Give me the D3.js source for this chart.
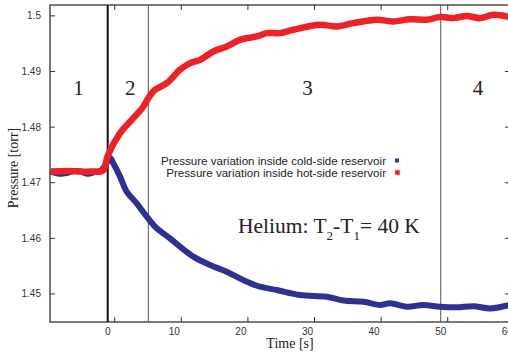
<!DOCTYPE html>
<html>
<head>
<meta charset="utf-8">
<script src="https://cdn.jsdelivr.net/npm/d3@7"></script>
<style>
  html, body { margin: 0; padding: 0; background: #fff; }
  svg { display: block; }
  .tick-label { font-family: "Liberation Sans", Arial, sans-serif; font-size: 10px; fill: #333; }
  .serif { font-family: "Liberation Serif", "Times New Roman", serif; fill: #222; }
  .legend { font-family: "Liberation Sans", Arial, sans-serif; font-size: 11.6px; fill: #222; }
</style>
</head>
<body>
<div id="chart"></div>
<script>
// ── DATA ─────────────────────────────────────────────────────────────────────
const coldTime = [-8.6, -7, -6, -5, -4, -3, -2, -1, -0.3, 0.4, 0.84, 1.85, 2.85, 4.35, 5.86, 7.36,
  9.35, 10.86, 12.85, 15.36, 17.87, 20.36, 22.87, 25.38, 28.9, 32.9, 35.4, 38.4, 40.9, 42.4,
  44.9, 47.4, 49.9, 52.4, 54.9, 57.4, 60.3];
const coldPressure = [1.4720, 1.4716, 1.4718, 1.4721, 1.4720, 1.4716, 1.4719, 1.4722, 1.4733, 1.4744,
  1.4735, 1.4711, 1.4684, 1.4663, 1.4639, 1.4618, 1.4600, 1.4585, 1.4567, 1.4552, 1.4540, 1.4525,
  1.4513, 1.4507, 1.4498, 1.4495, 1.4488, 1.4486, 1.4480, 1.4483, 1.4477, 1.4480, 1.4477, 1.4476,
  1.4478, 1.4474, 1.4480];

const hotTime = [-8.6, -6, -4, -2, -1.1, -0.6, 0, 1.85, 3.84, 5.35, 6.25, 7.1, 8.86, 10.85, 12.36,
  13.86, 15.86, 17.87, 19.86, 22.37, 23.87, 25.86, 27.87, 31.88, 34.38, 36.88, 40.39, 42.88, 45.39,
  47.9, 49.9, 51.9, 53.9, 55.9, 57.9, 60.3];
const hotPressure = [1.4720, 1.4721, 1.4720, 1.4720, 1.4720, 1.4723, 1.4748, 1.4789, 1.4816, 1.4837,
  1.4855, 1.4867, 1.4879, 1.4903, 1.4915, 1.4921, 1.4936, 1.4945, 1.4957, 1.4963, 1.4969, 1.4969,
  1.4975, 1.4984, 1.4981, 1.4987, 1.4993, 1.4990, 1.4994, 1.4993, 1.4998, 1.4996, 1.5000, 1.4996,
  1.5002, 1.4998];

const xTicks = [0, 10, 20, 30, 40, 50, 60];
const yTicks = [1.45, 1.46, 1.47, 1.48, 1.49, 1.5];
const stageBounds = [0, 6.1, 50];             // vertical separators
const stageLabels = ['1', '2', '3', '4'];
const stageCentres = [-4.4, 3.4, 30, 55.6];   // where the stage numbers sit
const seriesNames = ['Pressure variation inside cold-side reservoir',
                     'Pressure variation inside hot-side reservoir'];

// ── DIMENSIONS ───────────────────────────────────────────────────────────────
const W = 508, H = 353;
const plot = { left: 50, right: 510, top: 5, bottom: 322 };
const tickShift = 7;   // tick marks sit a little right of their labels in the original

const svg = d3.select('#chart').append('svg')
  .attr('width', W).attr('height', H);

// ── SCALES ───────────────────────────────────────────────────────────────────
const x = d3.scaleLinear().domain([-8.664, 60.4]).range([plot.left, plot.right]);
const y = d3.scaleLinear().domain([1.44495, 1.50196]).range([plot.bottom, plot.top]);

// ── FRAME ────────────────────────────────────────────────────────────────────
svg.append('rect')
  .attr('x', plot.left).attr('y', plot.top)
  .attr('width', plot.right - plot.left).attr('height', plot.bottom - plot.top)
  .attr('fill', 'none').attr('stroke', '#333').attr('stroke-width', 1.3);

// x ticks (inward, bottom and top)
const xt = svg.append('g');
xt.selectAll('.tb').data(xTicks).join('line')
  .attr('x1', d => x(d) + tickShift).attr('x2', d => x(d) + tickShift)
  .attr('y1', plot.bottom).attr('y2', plot.bottom - 5)
  .attr('stroke', '#333');
xt.selectAll('.tt').data(xTicks).join('line')
  .attr('class', 'tt')
  .attr('x1', d => x(d) + tickShift).attr('x2', d => x(d) + tickShift)
  .attr('y1', plot.top).attr('y2', plot.top + 5)
  .attr('stroke', '#333');
xt.selectAll('text').data(xTicks).join('text')
  .attr('class', 'tick-label')
  .attr('x', d => x(d)).attr('y', plot.bottom + 13)
  .attr('text-anchor', 'middle')
  .text(d => d);

// y ticks (inward, left and right)
const yt = svg.append('g');
yt.selectAll('.tl').data(yTicks).join('line')
  .attr('x1', plot.left).attr('x2', plot.left + 5)
  .attr('y1', d => y(d)).attr('y2', d => y(d))
  .attr('stroke', '#333');
yt.selectAll('.tr').data(yTicks).join('line')
  .attr('class', 'tr')
  .attr('x1', plot.right).attr('x2', plot.right - 5)
  .attr('y1', d => y(d)).attr('y2', d => y(d))
  .attr('stroke', '#333');
yt.selectAll('text').data(yTicks).join('text')
  .attr('class', 'tick-label')
  .attr('x', 41).attr('y', d => y(d) + 3.5)
  .attr('text-anchor', 'end')
  .text(d => d3.format('')(d));

// ── STAGE SEPARATORS ─────────────────────────────────────────────────────────
svg.selectAll('.sep').data(stageBounds).join('line')
  .attr('x1', d => x(d)).attr('x2', d => x(d))
  .attr('y1', plot.top).attr('y2', plot.bottom)
  .attr('stroke', (d, i) => i === 0 ? '#111' : '#555')
  .attr('stroke-width', (d, i) => i === 0 ? 2 : 1);

svg.selectAll('.stage').data(stageLabels).join('text')
  .attr('class', 'serif')
  .attr('x', (d, i) => x(stageCentres[i])).attr('y', 95)
  .attr('text-anchor', 'middle')
  .attr('font-size', 21)
  .text(d => d);

// ── LINES ────────────────────────────────────────────────────────────────────
const line = d3.line()
  .x(d => x(d[0])).y(d => y(d[1]))
  .curve(d3.curveCatmullRom.alpha(0.5));

svg.append('path')
  .datum(d3.zip(coldTime, coldPressure))
  .attr('d', line)
  .attr('fill', 'none').attr('stroke', '#2e3192').attr('stroke-width', 6)
  .attr('stroke-linejoin', 'round');

svg.append('path')
  .datum(d3.zip(hotTime, hotPressure))
  .attr('d', line)
  .attr('fill', 'none').attr('stroke', '#ed2227').attr('stroke-width', 6.5)
  .attr('stroke-linejoin', 'round');

// ── LEGEND ───────────────────────────────────────────────────────────────────
const legend = svg.append('g');
legend.selectAll('text').data(seriesNames).join('text')
  .attr('class', 'legend')
  .attr('x', 386).attr('y', (d, i) => 164.5 + i * 12)
  .attr('text-anchor', 'end')
  .text(d => d);

legend.append('rect')
  .attr('x', 395).attr('y', 158.5).attr('width', 4).attr('height', 4)
  .attr('fill', '#2e3192');
legend.append('path')
  .attr('d', d3.symbol(d3.symbolAsterisk, 22)())
  .attr('transform', 'translate(397.5,172.5)')
  .attr('stroke', '#ed2227').attr('stroke-width', 2).attr('fill', 'none');

// ── ANNOTATIONS ──────────────────────────────────────────────────────────────
const he = svg.append('text')
  .attr('class', 'serif')
  .attr('x', 238).attr('y', 233)
  .attr('font-size', 21.5);
he.append('tspan').text('Helium: T');
he.append('tspan').attr('font-size', 13).attr('dy', 7).text('2');
he.append('tspan').attr('dy', -7).text('-T');
he.append('tspan').attr('font-size', 13).attr('dy', 7).text('1');
he.append('tspan').attr('dy', -7).text('= 40 K');

// ── AXIS LABELS ──────────────────────────────────────────────────────────────
svg.append('text')
  .attr('class', 'serif')
  .attr('x', 290).attr('y', 348)
  .attr('text-anchor', 'middle')
  .attr('font-size', 14)
  .text('Time [s]');

svg.append('text')
  .attr('class', 'serif')
  .attr('transform', 'translate(18,168) rotate(-90)')
  .attr('text-anchor', 'middle')
  .attr('font-size', 14)
  .text('Pressure [torr]');
</script>
</body>
</html>
